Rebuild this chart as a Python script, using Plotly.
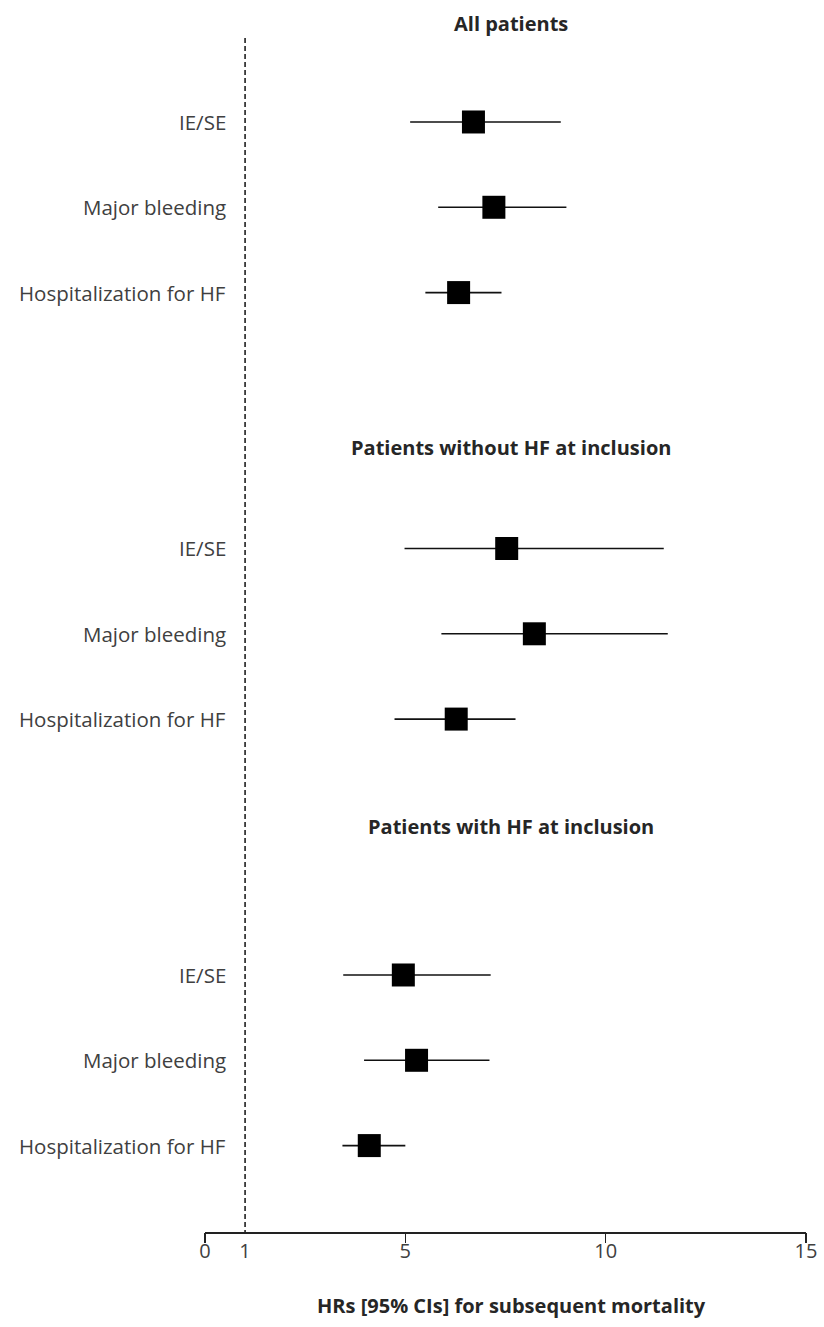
import plotly.graph_objects as go

# ---- data ----
groups = ["All patients", "Patients without HF at inclusion", "Patients with HF at inclusion"]
outcomes = ["IE/SE", "Major bleeding", "Hospitalization for HF"]
hr_all = [6.70, 7.21, 6.33]
lo_all = [5.12, 5.82, 5.50]
hi_all = [8.88, 9.02, 7.40]
hr_nohf = [7.53, 8.22, 6.27]
lo_nohf = [4.98, 5.90, 4.73]
hi_nohf = [11.45, 11.55, 7.75]
hr_hf = [4.95, 5.28, 4.10]
lo_hf = [3.45, 3.97, 3.43]
hi_hf = [7.13, 7.10, 5.00]
x_tickvals = [0, 1, 5, 10, 15]
x_ticktext = ["0", "1", "5", "10", "15"]
x_tickmarks = [0, 5, 10, 15]
axis_title = "HRs [95% CIs] for subsequent mortality"

# ---- layout helpers ----
group_rows = [[0, 1, 2], [5, 6, 7], [10, 11, 12]]
title_rows = [-1.149, 3.82, 8.26]
title_x = [7.64, 7.64, 7.64]
series = [(hr_all, lo_all, hi_all), (hr_nohf, lo_nohf, hi_nohf), (hr_hf, lo_hf, hi_hf)]

FONT = "'Open Sans', Lato, sans-serif"
TXT = "#404040"
TTL = "#262626"

fig = go.Figure()

for rows, (hr, lo, hi) in zip(group_rows, series):
    fig.add_trace(go.Scatter(
        x=hr, y=rows, mode="markers",
        marker=dict(symbol="square", size=23, color="black"),
        error_x=dict(type="data", symmetric=False,
                     array=[h - m for h, m in zip(hi, hr)],
                     arrayminus=[m - l for m, l in zip(hr, lo)],
                     width=0, thickness=1.6, color="#111111"),
        showlegend=False, hoverinfo="skip"))

# dashed reference line at HR = 1
fig.add_shape(type="line", x0=1, x1=1, y0=-0.985, y1=13.013, xref="x", yref="y",
              line=dict(color="#111111", width=1.5, dash="5px,3px"), layer="below")

# row labels
for rows in group_rows:
    for r, lab in zip(rows, outcomes):
        fig.add_annotation(x=0.58, y=r, xref="x", yref="y", text=lab, showarrow=False,
                           xanchor="right", yanchor="middle",
                           font=dict(family=FONT, size=20.5, color=TXT))

# group titles
for g, ty, tx in zip(groups, title_rows, title_x):
    fig.add_annotation(x=tx, y=ty, xref="x", yref="y", text="<b>" + g + "</b>", showarrow=False,
                       xanchor="center", yanchor="middle",
                       font=dict(family=FONT, size=20, color=TTL))

# axis title
fig.add_annotation(x=7.64, y=-0.060, xref="x", yref="paper", text="<b>" + axis_title + "</b>",
                   showarrow=False, xanchor="center", yanchor="middle",
                   font=dict(family=FONT, size=20, color=TTL))

fig.update_layout(
    width=824, height=1327,
    margin=dict(l=205, r=18, t=0, b=95),
    plot_bgcolor="white", paper_bgcolor="white",
    xaxis=dict(range=[0, 15], tickvals=x_tickvals, ticktext=x_ticktext,
               showgrid=False, zeroline=False, showline=True, linecolor="#222222", linewidth=1.5,
               ticks="", tickfont=dict(family=FONT, size=20, color=TXT)),
    xaxis2=dict(range=[0, 15], overlaying="x", side="bottom", anchor="y",
                tickvals=x_tickmarks, showticklabels=False, ticks="outside", ticklen=10,
                tickwidth=1.5, tickcolor="#222222", showgrid=False, zeroline=False, showline=False),
    yaxis=dict(range=[13.013, -1.430], visible=False, showgrid=False, zeroline=False),
)
# dummy trace to activate xaxis2
fig.add_trace(go.Scatter(x=[None], y=[None], xaxis="x2", yaxis="y", showlegend=False, hoverinfo="skip"))

fig.write_html("out.html", config={"displayModeBar": False, "staticPlot": True},
               post_script="document.body.style.margin='0px';document.body.style.overflow='hidden';")
